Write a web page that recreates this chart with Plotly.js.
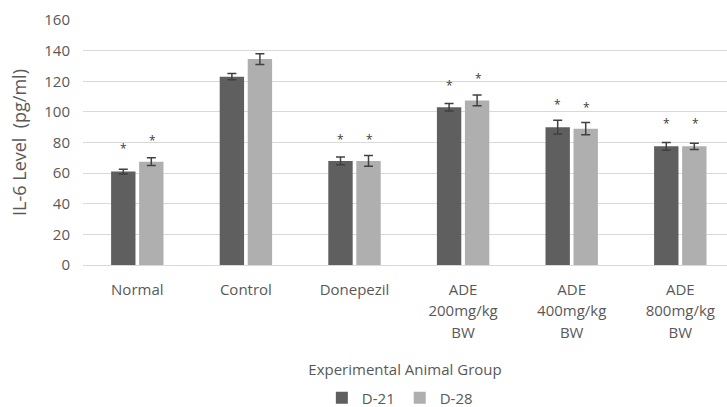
<!DOCTYPE html>
<html>
<head>
<meta charset="utf-8">
<script src="https://cdn.plot.ly/plotly-3.0.1.min.js"></script>
<style>html,body{margin:0;padding:0;background:#fff;}#chart{width:727px;height:407px;}</style>
</head>
<body>
<div id="chart"></div>
<script>
const categories = ["Normal", "Control", "Donepezil", "ADE<br>200mg/kg<br>BW", "ADE<br>400mg/kg<br>BW", "ADE<br>800mg/kg<br>BW"];
const d21 = [61, 123, 68, 103, 90, 77.5];
const d21Err = [1.5, 2, 2.5, 2.5, 4.5, 2.5];
const d28 = [67.5, 134.5, 68, 107.5, 89, 77.5];
const d28Err = [2.5, 3.5, 3.5, 3.5, 4, 2];
const starD21 = [78, null, 84, 119, 107, 94.5];
const starD28 = [83, null, 84, 124, 104.5, 94.5];

const FAM = "Open Sans, sans-serif";
const font = {family: FAM, size: 15, color: "#595959"};
const tickText = categories.map(c => c.split("<br>").map(s => '<span style="font-size:15px">' + s + '</span>').join("<br>"));

const traces = [
  {type: "bar", name: "D-21", x: categories, y: d21,
   marker: {color: "#5f5f5f"},
   error_y: {type: "data", array: d21Err, visible: true, color: "#404040", thickness: 1.5, width: 4.5}},
  {type: "bar", name: "D-28", x: categories, y: d28,
   marker: {color: "#afafaf"},
   error_y: {type: "data", array: d28Err, visible: true, color: "#404040", thickness: 1.5, width: 4.5}}
];

const annotations = [];
categories.forEach((c, i) => {
  if (starD21[i] !== null) annotations.push({x: c, y: starD21[i], xref: "x", yref: "y", text: "*", showarrow: false, xshift: -14, yshift: -3, font: {family: FAM, size: 12, color: "#404040"}});
  if (starD28[i] !== null) annotations.push({x: c, y: starD28[i], xref: "x", yref: "y", text: "*", showarrow: false, xshift: 15, yshift: -3, font: {family: FAM, size: 12, color: "#404040"}});
});

const layout = {
  width: 727, height: 407,
  margin: {l: 83, r: 0, t: 20, b: 141.5},
  paper_bgcolor: "#ffffff", plot_bgcolor: "#ffffff",
  font: font,
  barmode: "group", bargap: 0.484, bargroupgap: 0.13,
  showlegend: true,
  legend: {orientation: "h", x: 0.55, xref: "container", xanchor: "center", y: 0.022, yref: "container", yanchor: "middle", font: {family: FAM, size: 15, color: "#595959"}, itemwidth: 30, tracegroupgap: 0},
  xaxis: {
    type: "category", range: [-0.5, 5.43], showgrid: false, zeroline: false, automargin: false,
    showline: true, linecolor: "#d9d9d9", linewidth: 1, ticks: "", ticklabelstandoff: 9,
    tickvals: categories, ticktext: tickText,
    tickfont: {family: FAM, size: 16.5, color: "#595959"}, fixedrange: true,
    title: {text: "Experimental Animal Group", font: font, standoff: 23}
  },
  yaxis: {
    range: [0, 160], dtick: 20, showgrid: true, gridcolor: "#d9d9d9", gridwidth: 1, automargin: false,
    zeroline: false, showline: false, ticks: "", ticklabelstandoff: 12,
    tickfont: font,
    title: {text: "IL-6 Level&nbsp; (pg/ml)", font: {family: FAM, size: 18, color: "#595959"}, standoff: 12}
  },
  annotations: annotations
};

Plotly.newPlot("chart", traces, layout, {displayModeBar: false, staticPlot: true});
</script>
</body>
</html>
